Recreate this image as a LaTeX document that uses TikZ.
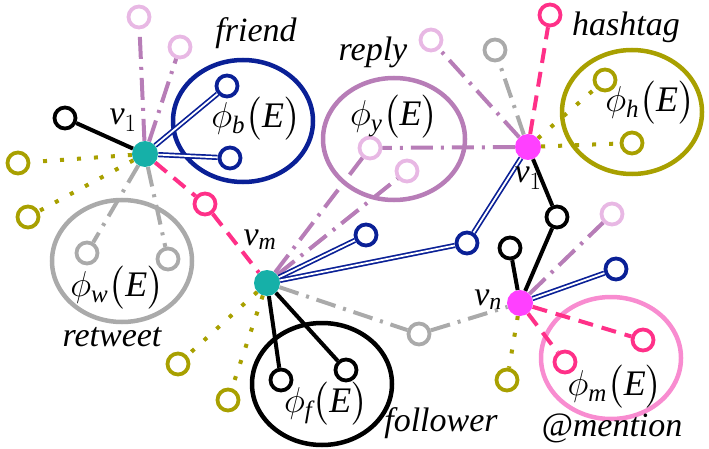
\documentclass[tikz,border=0pt]{standalone}
\usepackage{amsmath}
\usepackage{graphicx}
\usepackage{fontspec}
\setmainfont{Liberation Serif}
\definecolor{tealA}{RGB}{22,176,168}
\definecolor{magA}{RGB}{255,64,255}
\definecolor{navyA}{RGB}{10,32,150}
\definecolor{purpA}{RGB}{183,125,183}
\definecolor{lavA}{RGB}{232,184,228}
\definecolor{oliveA}{RGB}{168,160,0}
\definecolor{grayA}{RGB}{170,170,170}
\definecolor{pinkA}{RGB}{255,48,136}
\definecolor{mpinkA}{RGB}{248,140,208}
\newcommand\phiE[1]{\scalebox{2.08}{\fontsize{17.28}{21}\selectfont$\phi_{\textit{#1}}\bigl(\textit{E}\bigr)$}}
\begin{document}
\begin{tikzpicture}[x=1pt,y=-1pt,
  sm/.style={circle,draw,line width=3.8pt,fill=white,minimum size=21pt,inner sep=0pt},
  hubA/.style={circle,fill=tealA,minimum size=26pt,inner sep=0pt},
  hubB/.style={circle,fill=magA,minimum size=26pt,inner sep=0pt},
  blk/.style={black,line width=4pt},
  olv/.style={oliveA,line width=4pt,dash pattern=on 4pt off 13pt},
  gry/.style={grayA,line width=4pt,dash pattern=on 20pt off 8pt on 3pt off 8pt},
  prp/.style={purpA,line width=4pt,dash pattern=on 22pt off 8pt on 3pt off 8pt},
  pnk/.style={pinkA,line width=4pt,dash pattern=on 15pt off 9pt},
  nvy/.style={draw=navyA,double=white,double distance=1.8pt,line width=1.7pt},
  ell/.style={line width=4.5pt},
  lbl/.style={inner sep=0pt,font=\fontsize{34}{40}\selectfont\itshape},
  phl/.style={inner sep=0pt},
  vl/.style={inner sep=0pt,font=\fontsize{34}{40}\selectfont}
]
\useasboundingbox (0,0) rectangle (709,449);
% group ellipses
\draw[ell,navyA] (243,121) ellipse [x radius=70pt,y radius=61pt];
\draw[ell,grayA] (122,261) ellipse [x radius=70pt,y radius=61pt];
\draw[ell,purpA] (394,139) ellipse [x radius=71pt,y radius=61pt];
\draw[ell,oliveA] (632,112) ellipse [x radius=70pt,y radius=62pt];
\draw[ell,black] (322,384) ellipse [x radius=70pt,y radius=61pt];
\draw[ell,mpinkA] (611,358) ellipse [x radius=70pt,y radius=61pt];
% hubs
\node[hubA] (v1L) at (145,154) {};
\node[hubA] (vm) at (267,283) {};
\node[hubB] (v1R) at (528,147) {};
\node[hubB] (vn) at (520,303) {};
% small circles
\node[sm,draw=black] (bk1) at (65,118) {};
\node[sm,draw=oliveA] (ol1) at (18,163) {};
\node[sm,draw=oliveA] (ol2) at (28,217) {};
\node[sm,draw=grayA] (gr1) at (87,253) {};
\node[sm,draw=grayA] (gr2) at (168,259) {};
\node[sm,draw=lavA] (lv1) at (139,17) {};
\node[sm,draw=lavA] (lv2) at (180,47) {};
\node[sm,draw=navyA] (bl1) at (227,86) {};
\node[sm,draw=navyA] (bl2) at (230,158) {};
\node[sm,draw=pinkA] (pk1) at (205,204) {};
\node[sm,draw=black] (fo1) at (281,380) {};
\node[sm,draw=black] (fo2) at (346,370) {};
\node[sm,draw=oliveA] (ol3) at (178,364) {};
\node[sm,draw=oliveA] (ol4) at (228,400) {};
\node[sm,draw=lavA] (lv3) at (370,148) {};
\node[sm,draw=lavA] (lv4) at (407,171) {};
\node[sm,draw=navyA] (bl3) at (366,235) {};
\node[sm,draw=navyA] (bl4) at (467,243) {};
\node[sm,draw=grayA] (gr3) at (419,334) {};
\node[sm,draw=lavA] (lv5) at (431,40) {};
\node[sm,draw=grayA] (gr4) at (495,50) {};
\node[sm,draw=pinkA] (pk2) at (550,15) {};
\node[sm,draw=oliveA] (ol5) at (605,80) {};
\node[sm,draw=oliveA] (ol6) at (632,143) {};
\node[sm,draw=black] (bk2) at (557,217) {};
\node[sm,draw=black] (bk3) at (510,248) {};
\node[sm,draw=lavA] (lv6) at (612,214) {};
\node[sm,draw=navyA] (bl5) at (616,269) {};
\node[sm,draw=pinkA] (pk3) at (643,340) {};
\node[sm,draw=pinkA] (pk4) at (565,362) {};
\node[sm,draw=oliveA] (ol7) at (507,380) {};
% connectors of v1 (left)
\draw[blk] (v1L) -- (bk1);
\draw[olv] (v1L) -- (ol1);
\draw[olv] (v1L) -- (ol2);
\draw[gry] (v1L) -- (gr1);
\draw[gry] (v1L) -- (gr2);
\draw[prp] (v1L) -- (lv1);
\draw[prp] (v1L) -- (lv2);
\draw[nvy] (v1L) -- (bl1);
\draw[nvy] (v1L) -- (bl2);
\draw[pnk] (v1L) -- (pk1);
\draw[pnk] (pk1) -- (vm);
% connectors of vm
\draw[blk] (vm) -- (fo1);
\draw[blk] (vm) -- (fo2);
\draw[olv] (vm) -- (ol3);
\draw[olv] (vm) -- (ol4);
\draw[prp] (vm) -- (lv3);
\draw[prp] (vm) -- (lv4);
\draw[nvy] (vm) -- (bl3);
\draw[nvy] (vm) -- (bl4);
\draw[nvy] (bl4) -- (v1R);
\draw[gry] (vm) -- (gr3);
\draw[gry] (gr3) -- (vn);
% connectors of v1 (right)
\draw[prp] (v1R) -- (lv3);
\draw[prp] (v1R) -- (lv5);
\draw[gry] (v1R) -- (gr4);
\draw[pnk] (v1R) -- (pk2);
\draw[olv] (v1R) -- (ol5);
\draw[olv] (v1R) -- (ol6);
\draw[blk] (v1R) -- (bk2);
% connectors of vn
\draw[blk] (vn) -- (bk2);
\draw[blk] (vn) -- (bk3);
\draw[prp] (vn) -- (lv6);
\draw[nvy] (vn) -- (bl5);
\draw[pnk] (vn) -- (pk3);
\draw[pnk] (vn) -- (pk4);
\draw[olv] (vn) -- (ol7);
% labels
\node[lbl] (tfriend) at (256,33) {friend};
\node[lbl] (treply) at (373,52) {reply};
\node[lbl] (thash) at (626,27) {hashtag};
\node[lbl] (tretw) at (112,337) {retweet};
\node[lbl] (tfoll) at (441,423) {follower};
\node[lbl] (tment) at (612,428) {@mention};
\node[phl] (pb) at (256,119) {\phiE{b}};
\node[phl] (py) at (394,117) {\phiE{y}};
\node[phl] (ph) at (650,103) {\phiE{h}};
\node[phl] (pw) at (117,288) {\phiE{w}};
\node[phl] (pf) at (326,404) {\phiE{f}};
\node[phl] (pm) at (615,387) {\phiE{m}};
\node[vl] (lv1L) at (123,120) {$\textit{v}_{1}$};
\node[vl] (lvm) at (260,240) {$\textit{v}_{\textit{m}}$};
\node[vl] (lv1R) at (528,178) {$\textit{v}_{1}$};
\node[vl] (lvn) at (488,300) {$\textit{v}_{\textit{n}}$};
\end{tikzpicture}
\end{document}
